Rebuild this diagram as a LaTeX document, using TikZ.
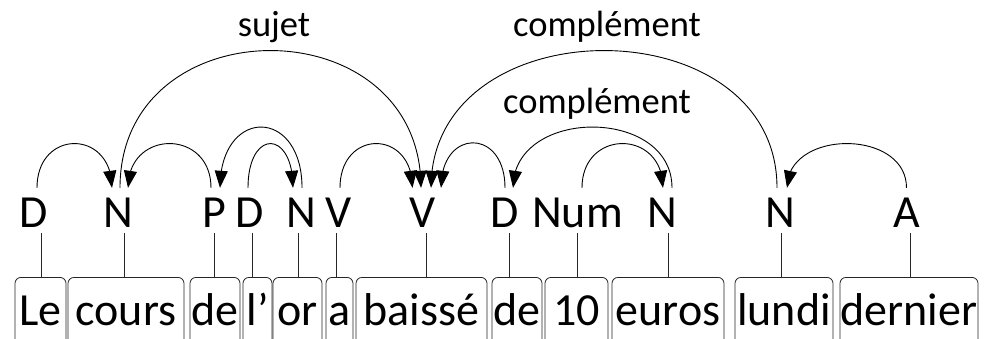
\documentclass[tikz,border=0pt]{standalone}
\usepackage{fontspec}
\setmainfont{Carlito}
\usetikzlibrary{arrows.meta,bending}
\newcommand\bigtxt{\fontsize{46}{50}\selectfont}
\newcommand\lbltxt{\fontsize{36.5}{40}\selectfont}
% dependency arc: start node, x shift, end node, x shift, control height
\newcommand\deparc[5]{%
  \draw[dep] ([xshift=#2pt,yshift=3pt]#1.north) .. controls +(0,-#5) and +(0,-#5) .. ([xshift=#4pt,yshift=3pt]#3.north);}
\begin{document}
\begin{tikzpicture}[x=1pt,y=-1pt,
  wbox/.style={draw=black!85, line width=0.8pt, rounded corners=6pt, inner sep=0pt,
               text height=48pt, text depth=30pt, anchor=north, font=\bigtxt},
  tag/.style={inner xsep=0pt, inner ysep=6pt, text height=30pt, text depth=0pt,
              anchor=base, font=\bigtxt},
  lbl/.style={anchor=base, inner sep=0pt, font=\lbltxt},
  link/.style={draw=black!85, line width=0.8pt},
  dep/.style={draw=black, line width=0.9pt, -{Triangle[length=17pt,width=13pt]}}]
\clip (0,0) rectangle (994,338);

% words
\node[wbox, minimum width=51pt]  (w1)  at (40.5,277)  {Le};
\node[wbox, minimum width=116pt] (w2)  at (126,277)   {cours};
\node[wbox, minimum width=50pt]  (w3)  at (215,277)   {de};
\node[wbox, minimum width=29pt]  (w4)  at (257.5,277) {l’};
\node[wbox, minimum width=49pt]  (w5)  at (297.5,277) {or};
\node[wbox, minimum width=27pt]  (w6)  at (339.5,277) {a};
\node[wbox, minimum width=131pt] (w7)  at (421.5,277) {baissé};
\node[wbox, minimum width=50pt]  (w8)  at (517,277)   {de};
\node[wbox, minimum width=63pt]  (w9)  at (576.5,277) {10};
\node[wbox, minimum width=112pt] (w10) at (668,277)   {euros};
\node[wbox, minimum width=98pt]  (w11) at (784,277)   {lundi};
\node[wbox, minimum width=138pt] (w12) at (909,277)   {dernier};

% tags
\node[tag] (t1)  at (34,227)    {D};
\node[tag] (t2)  at (118,227)   {N};
\node[tag] (t3)  at (214,227)   {P};
\node[tag] (t4)  at (250,227)   {D};
\node[tag] (t5)  at (301,227)   {N};
\node[tag] (t6)  at (339,227)   {V};
\node[tag] (t7)  at (422.5,227) {V};
\node[tag] (t8)  at (505,227)   {D};
\node[tag] (t9)  at (577.5,227) {Num};
\node[tag] (t10) at (662,227)   {N};
\node[tag] (t11) at (780,227)   {N};
\node[tag] (t12) at (906.5,227) {A};

% links tag -> word
\coordinate (l1) at (41,0);   \coordinate (l2) at (124,0);
\coordinate (l3) at (214,0);  \coordinate (l4) at (252,0);
\coordinate (l5) at (298,0);  \coordinate (l6) at (336,0);
\coordinate (l7) at (426,0);  \coordinate (l8) at (509,0);
\coordinate (l9) at (577,0);  \coordinate (l10) at (668,0);
\coordinate (l11) at (781,0); \coordinate (l12) at (910,0);
\foreach \i in {1,...,12}{\draw[link] (w\i.north -| l\i) -- (t\i.south -| l\i);}

% dependency arcs
\deparc{t1}{3}{t2}{-6}{59}
\deparc{t3}{-3}{t2}{10}{59}
\deparc{t2}{2}{t7}{-1.5}{183}
\deparc{t5}{1}{t3}{6}{81}
\deparc{t4}{-2}{t5}{-8}{59}
\deparc{t6}{1}{t7}{-10}{59}
\deparc{t8}{0}{t7}{18.5}{60}
\deparc{t11}{-3}{t7}{8.5}{183}
\deparc{t10}{10}{t8}{8}{81}
\deparc{t9}{4.5}{t10}{1}{59}
\deparc{t12}{0}{t11}{7}{59}

% labels
\node[lbl] (sujet) at (274,36)  {sujet};
\node[lbl] (comp1) at (607,36)  {complément};
\node[lbl] (comp2) at (597,113) {complément};
\end{tikzpicture}
\end{document}
